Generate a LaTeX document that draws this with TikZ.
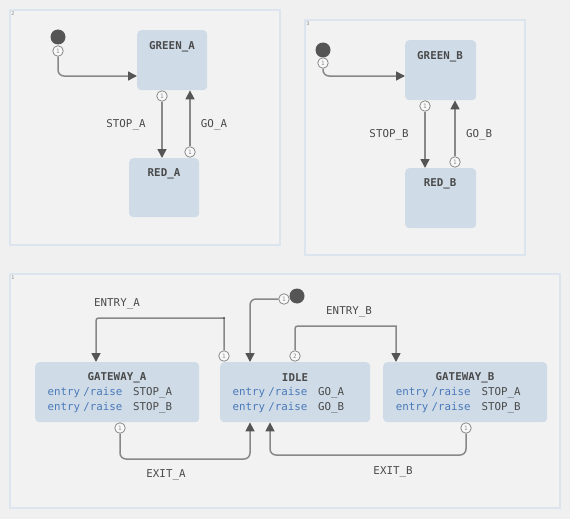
\documentclass[tikz,border=0pt]{standalone}
\usepackage{fontspec}
\setmainfont{DejaVu Sans Mono}
\usetikzlibrary{arrows.meta,calc}
\definecolor{bg}{HTML}{F0F0F0}
\definecolor{regfill}{HTML}{F2F2F2}
\definecolor{regline}{HTML}{DCE4EE}
\definecolor{statefill}{HTML}{CFDCE8}
\definecolor{txt}{HTML}{4A4A4A}
\definecolor{kw}{HTML}{4A78B8}
\definecolor{linec}{HTML}{888888}
\definecolor{tipc}{HTML}{555555}
\newcommand{\actrow}[1]{\textcolor{kw}{entry}\hspace{3.3pt}\textcolor{kw}{/raise}\hspace{10.9pt}#1}
\begin{document}
\begin{tikzpicture}[x=1pt,y=-1pt,
  font=\fontsize{10.8}{12}\selectfont,
  regionbox/.style={draw=regline, fill=regfill, line width=1.5pt},
  reglabel/.style={text=linec, font=\fontsize{5}{5}\selectfont, inner sep=0},
  statebox/.style={fill=statefill, rounded corners=4pt, inner sep=0, anchor=north west},
  stitle/.style={text=txt, font=\fontsize{10.8}{12}\selectfont\bfseries, inner sep=0, yshift=-1.5pt},
  elabel/.style={text=txt, inner sep=0, yshift=-1pt},
  actline/.style={text=txt, inner sep=0, anchor=west, yshift=-1.5pt},
  initdot/.style={circle, fill=tipc, minimum size=15pt, inner sep=0},
  prio/.style={circle, draw=linec, fill=white!60!bg, line width=0.8pt, minimum size=10.5pt, inner sep=0, text=linec, font=\fontsize{6}{6}\selectfont},
  conn/.style={draw=linec, line width=1.5pt, -{Triangle[length=9pt,width=9pt,color=tipc]}},
  rc/.style={rounded corners=6pt}
]
\useasboundingbox (0,0) rectangle (570,519);
\fill[bg] (0,0) rectangle (570,519);

% regions
\draw[regionbox] (10,10) rectangle (280,245);
\draw[regionbox] (305,20) rectangle (525,255);
\draw[regionbox] (10,274) rectangle (560,508);
\node[reglabel] (l2) at (13,14) {2};
\node[reglabel] (l3) at (308,24) {3};
\node[reglabel] (l1) at (13,278) {1};

% ---------- region 2 ----------
\node[statebox, minimum width=70pt, minimum height=60pt] (g2) at (137,30) {};
\node[stitle] (g2t) at (172,45) {GREEN\_A};
\node[statebox, minimum width=70pt, minimum height=59pt] (r2) at (129,158) {};
\node[stitle] (r2t) at (164,172) {RED\_A};
\node[initdot] (i2) at (58,37) {};
\node[prio] (p2) at (58,51) {1};
\node[prio] (s2) at (162,96) {1};
\node[prio] (go2) at (190,152) {1};
\draw[conn, rc] (p2.south) |- (g2.west |- 0,76);
\draw[conn] (s2.south) -- (s2 |- r2.north);
\draw[conn] (go2.north) -- (go2 |- g2.south);
\node[elabel] (stopa) at (126,124) {STOP\_A};
\node[elabel] (goa) at (214,124) {GO\_A};

% ---------- region 3 ----------
\node[statebox, minimum width=71pt, minimum height=60pt] (g3) at (405,40) {};
\node[stitle] (g3t) at (440,55) {GREEN\_B};
\node[statebox, minimum width=71pt, minimum height=60pt] (r3) at (405,168) {};
\node[stitle] (r3t) at (440,182) {RED\_B};
\node[initdot] (i3) at (323,50) {};
\node[prio] (p3) at (323,63) {1};
\node[prio] (s3) at (425,106) {1};
\node[prio] (go3) at (455,162) {1};
\draw[conn, rc] (p3.south) |- (g3.west |- 0,76);
\draw[conn] (s3.south) -- (s3 |- r3.north);
\draw[conn] (go3.north) -- (go3 |- g3.south);
\node[elabel] (stopb) at (389,134) {STOP\_B};
\node[elabel] (gob) at (479,134) {GO\_B};

% ---------- region 1 ----------
\node[statebox, minimum width=164pt, minimum height=60pt] (gwa) at (35,362) {};
\node[statebox, minimum width=150pt, minimum height=60pt] (idle) at (220,362) {};
\node[statebox, minimum width=164pt, minimum height=60pt] (gwb) at (383,362) {};
\node[stitle] (gwat) at (117,376) {GATEWAY\_A};
\node[stitle] (idlet) at (295,376) {IDLE};
\node[stitle] (gwbt) at (465,376) {GATEWAY\_B};
\node[actline] (gwa1) at (47.3,391) {\actrow{STOP\_A}};
\node[actline] (gwa2) at (47.3,406) {\actrow{STOP\_B}};
\node[actline] (idle1) at (232.3,391) {\actrow{GO\_A}};
\node[actline] (idle2) at (232.3,406) {\actrow{GO\_B}};
\node[actline] (gwb1) at (395.7,391) {\actrow{STOP\_A}};
\node[actline] (gwb2) at (395.7,406) {\actrow{STOP\_B}};

\node[initdot] (i1) at (297,296) {};
\node[prio] (p1) at (284,299) {1};
\node[prio] (e1) at (224,356) {1};
\node[prio] (e2) at (295,356) {2};
\node[prio] (x1) at (120,428) {1};
\node[prio] (x2) at (466,428) {1};
\coordinate (ca) at (224,318);

\draw[conn, rc] (p1.west) -| (idle.north -| 250,0);
\draw[conn] (e1.north) -- (ca) -- (102,318) .. controls (96,318) .. (96,324) -- (gwa.north -| 96,0);
\fill[tipc] (ca) circle (1.1pt);
\draw[conn] (e2.north) -- (295,332) .. controls (295,326) .. (301,326) -- (396,326) -- (gwb.north -| 396,0);
\draw[conn, rc] (x1.south) |- (250,459) -- (idle.south -| 250,0);
\draw[conn, rc] (x2.south) |- (270,455) -- (idle.south -| 270,0);

\node[elabel] (entrya) at (117,303) {ENTRY\_A};
\node[elabel] (entryb) at (349,311) {ENTRY\_B};
\node[elabel] (exita) at (166,474) {EXIT\_A};
\node[elabel] (exitb) at (393,471) {EXIT\_B};
\end{tikzpicture}
\end{document}
